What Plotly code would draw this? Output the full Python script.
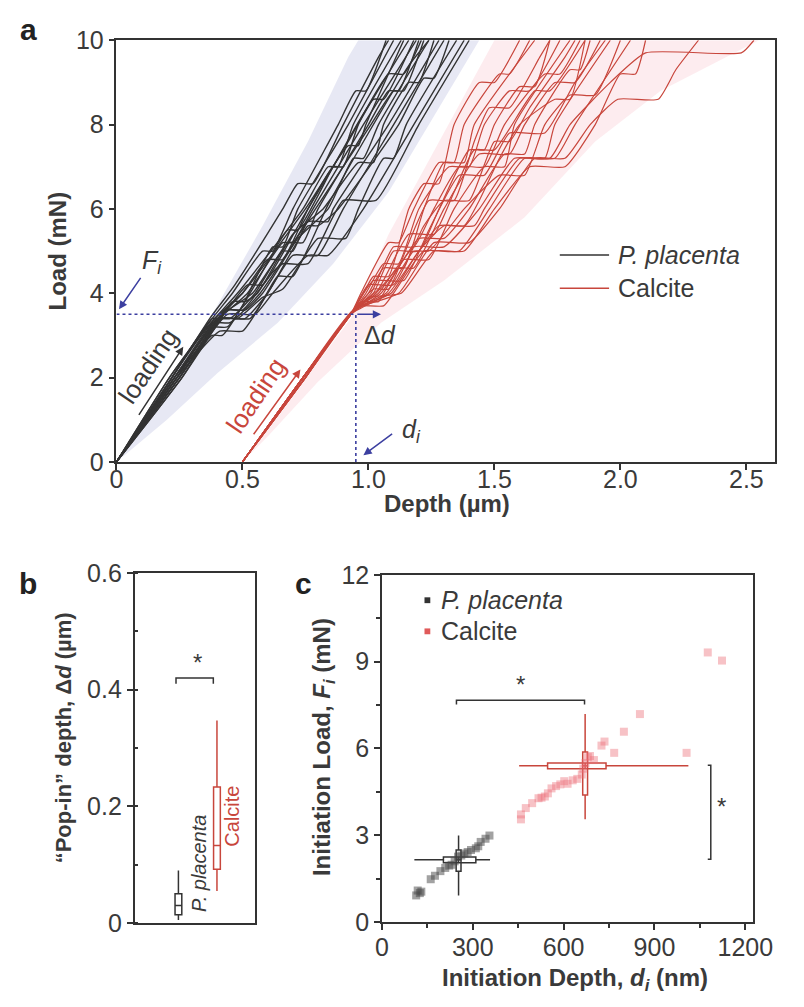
import plotly.graph_objects as go

W, H = 804, 1007

# ---------------- Panel a: load-depth curves (depth in um, load in mN) ----------------
pp_curves = [
    [(0, 0), (0.23, 2.0), (0.38, 3.0), (0.42, 3.0), (0.50, 3.7), (0.62, 5.1), (0.66, 5.1), (0.72, 6.0), (0.92, 8.0), (1.10, 10)],
    [(0, 0), (0.24, 2.0), (0.42, 3.5), (0.50, 4.0), (0.60, 4.8), (0.66, 4.8), (0.76, 6.0), (0.86, 7.0), (0.90, 7.0), (0.96, 8.0), (1.16, 10)],
    [(0, 0), (0.22, 2.0), (0.38, 3.4), (0.45, 3.4), (0.55, 4.0), (0.68, 5.2), (0.74, 5.2), (0.80, 6.0), (1.00, 8.0), (1.08, 8.8), (1.12, 8.8), (1.20, 10)],
    [(0, 0), (0.25, 2.0), (0.44, 3.6), (0.51, 3.6), (0.58, 4.0), (0.72, 5.3), (0.84, 6.0), (0.94, 7.2), (0.98, 7.2), (1.04, 8.0), (1.24, 10)],
    [(0, 0), (0.24, 2.0), (0.40, 3.4), (0.53, 3.4), (0.60, 4.0), (0.70, 4.9), (0.80, 4.9), (0.90, 6.0), (1.10, 8.0), (1.30, 10)],
    [(0, 0), (0.21, 2.0), (0.38, 3.4), (0.46, 4.0), (0.58, 5.0), (0.62, 5.0), (0.70, 6.0), (0.88, 8.0), (0.95, 8.8), (0.99, 8.8), (1.07, 10)],
    [(0, 0), (0.25, 2.0), (0.43, 3.6), (0.50, 3.6), (0.62, 4.5), (0.66, 4.7), (0.76, 4.7), (0.90, 6.2), (1.03, 6.2), (1.20, 8.0), (1.40, 10)],
    [(0, 0), (0.24, 2.0), (0.40, 3.4), (0.48, 3.4), (0.58, 3.9), (0.66, 4.1), (0.80, 5.3), (0.91, 5.3), (0.96, 6.0), (1.06, 7.2), (1.10, 7.2), (1.15, 8.0), (1.35, 10)],
    [(0, 0), (0.23, 2.0), (0.39, 3.3), (0.52, 4.0), (0.66, 5.2), (0.70, 5.2), (0.78, 6.0), (0.98, 8.0), (1.19, 10)],
    [(0, 0), (0.26, 2.0), (0.46, 3.8), (0.51, 3.8), (0.56, 4.0), (0.70, 5.4), (0.82, 6.0), (0.96, 7.1), (1.02, 7.1), (1.06, 8.0), (1.16, 9.0), (1.20, 9.0), (1.26, 10)],
    [(0, 0), (0.21, 2.0), (0.36, 3.2), (0.48, 4.0), (0.74, 6.0), (0.84, 7.0), (0.88, 7.0), (0.94, 8.0), (1.13, 10)],
    [(0, 0), (0.25, 2.0), (0.44, 3.5), (0.55, 3.5), (0.62, 4.0), (0.76, 4.9), (0.84, 4.9), (0.98, 6.0), (1.18, 8.0), (1.38, 10)],
    [(0, 0), (0.23, 2.0), (0.42, 3.5), (0.54, 4.0), (0.66, 5.0), (0.70, 5.0), (0.76, 5.7), (0.84, 5.7), (0.86, 6.0), (1.08, 8.0), (1.28, 10)],
    [(0, 0), (0.22, 2.0), (0.38, 3.3), (0.45, 3.3), (0.57, 4.0), (0.79, 6.0), (1.01, 8.0), (1.10, 8.8), (1.14, 8.8), (1.22, 10)],
    [(0, 0), (0.23, 2.0), (0.39, 3.4), (0.50, 4.0), (0.75, 6.0), (0.92, 7.5), (0.96, 7.5), (0.99, 8.0), (1.14, 10)],
    [(0, 0), (0.25, 2.0), (0.42, 3.4), (0.51, 3.4), (0.60, 4.0), (0.76, 5.6), (0.80, 5.6), (0.88, 6.0), (1.12, 8.0), (1.22, 9.1), (1.26, 9.1), (1.32, 10)],
    [(0, 0), (0.22, 2.0), (0.36, 3.2), (0.44, 3.2), (0.54, 4.1), (0.68, 5.5), (0.72, 5.5), (0.86, 7.0), (1.02, 8.6), (1.06, 8.6), (1.18, 10)],
    [(0, 0), (0.26, 2.0), (0.45, 3.7), (0.52, 4.2), (0.58, 4.2), (0.74, 5.8), (0.92, 7.6), (1.08, 9.2), (1.14, 9.2), (1.21, 10)],
    [(0, 0), (0.24, 2.0), (0.41, 3.1), (0.50, 3.1), (0.56, 3.6), (0.64, 4.4), (0.70, 4.4), (0.84, 6.1), (1.00, 7.8), (1.16, 9.4), (1.24, 10)],
    [(0, 0), (0.22, 2.0), (0.37, 3.4), (0.47, 4.2), (0.66, 6.0), (0.72, 6.6), (0.78, 6.6), (0.90, 8.0), (1.04, 9.6), (1.08, 10)],
]

calcite_curves = [
    [(0.5, 0), (0.74, 2.0), (0.93, 3.5), (0.98, 4.0), (1.02, 4.4), (1.08, 4.4), (1.16, 6.0), (1.22, 6.6), (1.28, 6.6), (1.34, 8.0), (1.44, 9.0), (1.50, 9.0), (1.60, 10)],
    [(0.5, 0), (0.74, 2.0), (0.93, 3.5), (1.00, 4.0), (1.06, 4.6), (1.14, 4.6), (1.22, 6.0), (1.30, 7.1), (1.38, 7.1), (1.42, 8.0), (1.66, 10)],
    [(0.5, 0), (0.75, 2.0), (0.93, 3.5), (1.02, 4.0), (1.10, 5.0), (1.20, 5.0), (1.28, 6.0), (1.40, 7.4), (1.46, 7.4), (1.50, 8.0), (1.60, 8.9), (1.66, 8.9), (1.72, 10)],
    [(0.5, 0), (0.74, 2.0), (0.94, 3.6), (1.04, 4.0), (1.14, 4.8), (1.24, 4.8), (1.34, 6.0), (1.46, 7.0), (1.54, 7.0), (1.58, 8.0), (1.80, 10)],
    [(0.5, 0), (0.74, 2.0), (0.93, 3.5), (0.97, 3.8), (1.04, 3.8), (1.06, 4.0), (1.20, 5.3), (1.30, 5.3), (1.40, 6.0), (1.54, 7.3), (1.62, 7.3), (1.66, 8.0), (1.80, 9.3), (1.84, 9.3), (1.88, 10)],
    [(0.5, 0), (0.75, 2.0), (0.93, 3.5), (1.08, 4.0), (1.20, 5.0), (1.28, 5.6), (1.42, 5.6), (1.46, 6.0), (1.60, 7.2), (1.70, 7.2), (1.74, 8.0), (1.96, 10)],
    [(0.5, 0), (0.74, 2.0), (0.93, 3.5), (0.96, 3.7), (1.06, 3.7), (1.10, 4.0), (1.22, 5.0), (1.36, 5.0), (1.48, 6.0), (1.62, 7.2), (1.74, 7.2), (1.82, 8.0), (2.04, 10)],
    [(0.5, 0), (0.74, 2.0), (0.94, 3.6), (1.12, 4.0), (1.26, 5.2), (1.40, 5.2), (1.52, 6.0), (1.66, 7.2), (1.78, 7.2), (1.88, 8.0), (1.99, 8.6), (2.15, 8.6), (2.22, 9.3), (2.31, 10)],
    [(0.5, 0), (0.75, 2.0), (0.93, 3.5), (1.05, 4.0), (1.18, 5.1), (1.30, 5.1), (1.44, 6.0), (1.58, 7.2), (1.72, 7.2), (1.80, 8.0), (1.96, 9.0), (2.10, 9.7), (2.48, 9.7), (2.53, 10)],
    [(0.5, 0), (0.74, 2.0), (0.93, 3.5), (0.99, 4.0), (1.06, 4.7), (1.12, 4.7), (1.20, 6.0), (1.32, 7.0), (1.40, 7.0), (1.46, 8.0), (1.56, 8.8), (1.64, 8.8), (1.76, 10)],
    [(0.5, 0), (0.74, 2.0), (0.93, 3.5), (1.03, 4.0), (1.12, 4.6), (1.18, 4.6), (1.30, 6.0), (1.44, 7.3), (1.56, 7.3), (1.62, 8.0), (1.74, 9.0), (1.82, 9.0), (1.92, 10)],
    [(0.5, 0), (0.75, 2.0), (0.94, 3.6), (1.07, 4.0), (1.18, 5.0), (1.24, 5.0), (1.38, 6.0), (1.52, 6.8), (1.62, 6.8), (1.70, 8.0), (1.80, 8.7), (1.90, 8.7), (2.00, 10)],
    [(0.5, 0), (0.74, 2.0), (0.93, 3.5), (1.01, 4.0), (1.10, 5.1), (1.18, 5.1), (1.26, 6.0), (1.36, 7.0), (1.46, 7.0), (1.54, 8.0), (1.70, 9.2), (1.76, 9.2), (1.84, 10)],
    [(0.5, 0), (0.74, 2.0), (0.93, 3.5), (1.00, 3.9), (1.13, 4.0), (1.26, 5.0), (1.38, 5.0), (1.50, 6.0), (1.64, 7.0), (1.78, 7.0), (1.90, 8.0), (2.00, 9.2), (2.06, 9.2), (2.10, 10)],
    [(0.5, 0), (0.74, 2.0), (0.93, 3.5), (0.97, 4.0), (1.08, 5.2), (1.12, 5.2), (1.18, 6.0), (1.28, 7.1), (1.34, 7.1), (1.38, 8.0), (1.52, 9.2), (1.56, 9.2), (1.64, 10)],
    [(0.5, 0), (0.75, 2.0), (0.94, 3.6), (1.09, 4.0), (1.20, 5.0), (1.30, 5.6), (1.38, 5.6), (1.44, 6.2), (1.52, 7.2), (1.60, 8.0), (1.74, 8.6), (1.80, 8.6), (1.86, 10)],
    [(0.5, 0), (0.74, 2.0), (0.93, 3.5), (1.00, 4.2), (1.10, 4.2), (1.22, 5.6), (1.30, 6.2), (1.40, 6.2), (1.50, 7.6), (1.56, 7.6), (1.64, 8.4), (1.78, 9.6), (1.82, 10)],
    [(0.5, 0), (0.74, 2.0), (0.94, 3.6), (1.04, 4.1), (1.16, 5.4), (1.26, 5.4), (1.34, 6.4), (1.42, 7.4), (1.50, 7.4), (1.66, 8.8), (1.72, 8.8), (1.86, 10)],
    [(0.5, 0), (0.75, 2.0), (0.93, 3.5), (1.02, 4.3), (1.14, 4.3), (1.24, 5.5), (1.36, 6.8), (1.46, 6.8), (1.56, 7.8), (1.70, 7.8), (1.82, 9.0), (1.94, 10)],
    [(0.5, 0), (0.74, 2.0), (0.93, 3.5), (1.02, 4.1), (1.08, 4.1), (1.16, 5.2), (1.24, 6.2), (1.34, 6.2), (1.42, 7.6), (1.48, 8.4), (1.56, 8.4), (1.68, 9.6), (1.72, 10)],
]

pp_band = [(0, 0), (0.22, 2.1), (0.38, 3.5), (0.58, 5.6), (0.76, 7.6), (0.92, 9.6), (0.96, 10),
           (1.44, 10), (1.28, 8.4), (1.08, 6.4), (0.86, 4.7), (0.64, 3.3), (0.40, 2.1), (0.20, 1.0), (0, 0)]
calcite_band = [(0.5, 0), (0.93, 3.4), (1.08, 5.4), (1.28, 7.6), (1.50, 10),
                (2.55, 10), (2.16, 8.8), (1.90, 7.6), (1.62, 5.8), (1.30, 4.3), (1.05, 3.3), (0.80, 1.9), (0.60, 0.6), (0.5, 0)]

fi_load = 3.5       # F_i marker
di_depth = 0.95     # d_i marker
dd_end = 1.05       # end of the Δd arrow

# ---------------- Panel b: pop-in depth box stats (um) ----------------
popin_pos = [0.363, 0.682]
popin_lo = [0.005, 0.055]
popin_q1 = [0.014, 0.092]
popin_med = [0.030, 0.133]
popin_q3 = [0.050, 0.233]
popin_hi = [0.090, 0.347]

# ---------------- Panel c: initiation depth (nm) vs load (mN) ----------------
pp_di = [113, 118, 125, 130, 161, 175, 193, 209, 222, 230, 240, 251, 262, 272, 283, 294, 310, 318, 326, 342, 355]
pp_fi = [0.92, 1.09, 1.00, 1.05, 1.48, 1.60, 1.76, 1.87, 1.95, 1.98, 2.10, 2.26, 2.30, 2.37, 2.42, 2.49, 2.55, 2.62, 2.77, 2.88, 2.99]
ca_di = [459, 459, 475, 496, 517, 527, 538, 548, 560, 575, 589, 602, 613, 630, 645, 660, 665, 672, 680, 687, 700, 725, 735, 767, 799, 852, 1006, 1076, 1123]
ca_fi = [3.55, 3.72, 3.94, 4.11, 4.28, 4.30, 4.34, 4.45, 4.62, 4.70, 4.76, 4.87, 4.78, 4.90, 4.95, 5.10, 5.30, 5.50, 5.70, 5.74, 5.60, 6.10, 6.24, 5.85, 6.58, 7.19, 5.85, 9.32, 9.04]

# box stats: (lower whisker, q1, median, q3, upper whisker)
pp_di_box = [107, 203, 253, 310, 357]
pp_fi_box = [0.92, 1.76, 2.15, 2.49, 2.99]
ca_di_box = [453, 547, 671, 740, 1012]
ca_fi_box = [3.55, 4.39, 5.40, 5.88, 7.19]

sig_depth_bracket = [246, 669, 7.67]   # x0, x1, y
sig_load_bracket = [1086, 2.17, 5.42]  # x, y0, y1

BLACK = "#333333"
RED = "#c8463c"
BLUE = "#3c3fa0"
TXT = "#3a3a3a"
FONT = "Liberation Sans, Arial, sans-serif"

fig = go.Figure()

# bands
fig.add_trace(go.Scatter(x=[p[0] for p in pp_band], y=[p[1] for p in pp_band], fill="toself",
                         fillcolor="rgba(160,165,212,0.25)", line=dict(width=0), mode="lines",
                         hoverinfo="skip", showlegend=False, xaxis="x", yaxis="y"))
fig.add_trace(go.Scatter(x=[p[0] for p in calcite_band], y=[p[1] for p in calcite_band], fill="toself",
                         fillcolor="rgba(246,170,180,0.22)", line=dict(width=0), mode="lines",
                         hoverinfo="skip", showlegend=False, xaxis="x", yaxis="y"))

for c in pp_curves:
    fig.add_trace(go.Scatter(x=[p[0] for p in c], y=[p[1] for p in c], mode="lines",
                             line=dict(color=BLACK, width=1.4, shape="spline", smoothing=0.5),
                             hoverinfo="skip", showlegend=False, xaxis="x", yaxis="y"))
for c in calcite_curves:
    fig.add_trace(go.Scatter(x=[p[0] for p in c], y=[p[1] for p in c], mode="lines",
                             line=dict(color=RED, width=1.2, shape="spline", smoothing=0.5),
                             hoverinfo="skip", showlegend=False, xaxis="x", yaxis="y"))

# dashed markers
fig.add_trace(go.Scatter(x=[0, di_depth], y=[fi_load, fi_load], mode="lines",
                         line=dict(color=BLUE, width=1.6, dash="dot"), hoverinfo="skip",
                         showlegend=False, xaxis="x", yaxis="y"))
fig.add_trace(go.Scatter(x=[di_depth, di_depth], y=[0, fi_load], mode="lines",
                         line=dict(color=BLUE, width=1.6, dash="dot"), hoverinfo="skip",
                         showlegend=False, xaxis="x", yaxis="y"))

# ---- panel b boxes
fig.add_trace(go.Box(x=[popin_pos[0]], lowerfence=[popin_lo[0]], q1=[popin_q1[0]], median=[popin_med[0]],
                     q3=[popin_q3[0]], upperfence=[popin_hi[0]], width=0.056, whiskerwidth=0,
                     line=dict(color=BLACK, width=1.5), fillcolor="white", boxpoints=False,
                     hoverinfo="skip", showlegend=False, xaxis="x2", yaxis="y2"))
fig.add_trace(go.Box(x=[popin_pos[1]], lowerfence=[popin_lo[1]], q1=[popin_q1[1]], median=[popin_med[1]],
                     q3=[popin_q3[1]], upperfence=[popin_hi[1]], width=0.056, whiskerwidth=0,
                     line=dict(color=RED, width=1.5), fillcolor="white", boxpoints=False,
                     hoverinfo="skip", showlegend=False, xaxis="x2", yaxis="y2"))

# ---- panel c scatter
fig.add_trace(go.Scatter(x=pp_di, y=pp_fi, mode="markers",
                         marker=dict(symbol="square", size=8, color="rgba(70,70,70,0.5)", line=dict(width=0)),
                         hoverinfo="skip", showlegend=False, xaxis="x3", yaxis="y3"))
fig.add_trace(go.Scatter(x=ca_di, y=ca_fi, mode="markers",
                         marker=dict(symbol="square", size=8, color="rgba(235,110,120,0.42)", line=dict(width=0)),
                         hoverinfo="skip", showlegend=False, xaxis="x3", yaxis="y3"))

for dbox, fbox, col in [(pp_di_box, pp_fi_box, BLACK), (ca_di_box, ca_fi_box, RED)]:
    fig.add_trace(go.Box(x=[dbox[2]], lowerfence=[fbox[0]], q1=[fbox[1]], median=[fbox[2]], q3=[fbox[3]],
                         upperfence=[fbox[4]], width=16, whiskerwidth=0, line=dict(color=col, width=1.5),
                         fillcolor="rgba(255,255,255,0)", boxpoints=False, hoverinfo="skip",
                         showlegend=False, xaxis="x3", yaxis="y3"))
    fig.add_trace(go.Box(y=[fbox[2]], lowerfence=[dbox[0]], q1=[dbox[1]], median=[dbox[2]], q3=[dbox[3]],
                         upperfence=[dbox[4]], width=0.2, whiskerwidth=0, orientation="h",
                         line=dict(color=col, width=1.5), fillcolor="rgba(255,255,255,0)",
                         boxpoints=False, hoverinfo="skip", showlegend=False, xaxis="x3", yaxis="y3"))


def px(x):
    return x / W


def py(y):
    return 1 - y / H


tickfont = dict(family=FONT, size=25, color=TXT)
axcommon = dict(showline=True, mirror=True, linecolor=BLACK, linewidth=1.5, showgrid=False,
                zeroline=False, ticks="outside", ticklen=6, tickwidth=1.5, tickcolor=BLACK,
                tickfont=tickfont)

a_x0, a_x1 = 113.3, 795
a_scale = 260.7
fig.update_layout(
    width=W, height=H, margin=dict(l=0, r=0, t=0, b=0), autosize=False,
    paper_bgcolor="white", plot_bgcolor="white", boxmode="overlay", showlegend=False,
    font=dict(family=FONT, color=TXT),
    xaxis=dict(domain=[px(a_x0), px(a_x1)], range=[0, (a_x1 - a_x0) / a_scale], anchor="y",
               tickvals=[0, 0.5, 1.0, 1.5, 2.0, 2.5], ticktext=["0", "0.5", "1.0", "1.5", "2.0", "2.5"],
               ticklabelstandoff=-12, **axcommon),
    yaxis=dict(domain=[py(460.7), py(27)], range=[0, 10], anchor="x",
               tickvals=[0, 2, 4, 6, 8, 10], **axcommon),
    xaxis2=dict(domain=[px(132), px(257)], range=[0, 1], anchor="y2", showticklabels=False,
                **{k: v for k, v in axcommon.items() if k not in ("ticks",)}, ticks=""),
    yaxis2=dict(domain=[py(935), py(575)], range=[0, 0.6], anchor="x2",
                tickvals=[0, 0.2, 0.4, 0.6], ticktext=["0", "0.2", "0.4", "0.6"],
                minor=dict(dtick=0.1, ticks="inside", ticklen=4, tickcolor=BLACK),
                **axcommon),
    xaxis3=dict(domain=[px(388), px(772)], range=[0, (772 - 388) / 0.3133], anchor="y3",
                tickvals=[0, 300, 600, 900, 1200], ticklabelstandoff=-4,
                minor=dict(dtick=150, ticks="outside", ticklen=4, tickcolor=BLACK),
                **axcommon),
    yaxis3=dict(domain=[py(934), py(577)], range=[0, 12], anchor="x3",
                tickvals=[0, 3, 6, 9, 12],
                minor=dict(dtick=1.5, ticks="outside", ticklen=4, tickcolor=BLACK),
                **axcommon),
)

ann = []


def text(x, y, s, size=23, color=TXT, angle=0, xanchor="center", yanchor="middle", xref="paper", yref="paper"):
    ann.append(dict(x=x, y=y, xref=xref, yref=yref, text=s, showarrow=False, textangle=angle,
                    xanchor=xanchor, yanchor=yanchor, font=dict(family=FONT, size=size, color=color)))


def arrow(x0, y0, x1, y1, color, xref="x", yref="y", width=1.5):
    ann.append(dict(x=x1, y=y1, ax=x0, ay=y0, xref=xref, yref=yref, axref=xref, ayref=yref, text="",
                    showarrow=True, arrowhead=2, arrowsize=1.1, arrowwidth=width, arrowcolor=color))


# panel labels
text(px(22), py(16), "<b>a</b>", size=30, color="#222")
text(px(22), py(586), "<b>b</b>", size=30, color="#222")
text(px(307), py(586), "<b>c</b>", size=30, color="#222")

# panel a titles
text(px(52), py(244), "<b>Load (mN)</b>", size=24, angle=-90)
text(px(455), py(504), "<b>Depth (µm)</b>", size=24)

# panel a legend (manual)
shapes = []
for yy, col in [(248, BLACK), (282, RED)]:
    shapes.append(dict(type="line", xref="paper", yref="paper", x0=px(572), x1=px(623), y0=py(yy), y1=py(yy),
                       line=dict(color=col, width=1.5)))
text(px(630), py(248), "<i>P. placenta</i>", size=25, xanchor="left")
text(px(630), py(282), "Calcite", size=25, xanchor="left")

# panel a annotations
arrow(dd_end - 0.1, fi_load, dd_end, fi_load, BLUE)
arrow(0.10, 4.4, 0.01, 3.62, BLUE)
arrow(1.10, 0.69, 0.98, 0.16, BLUE)
text(0.975, 3.0, "Δ<i>d</i>", size=25, xanchor="left", xref="x", yref="y")
text(0.14, 4.75, "<i>F<sub>i</sub></i>", size=25, xref="x", yref="y")
text(1.17, 0.74, "<i>d<sub>i</sub></i>", size=25, xref="x", yref="y")
arrow(0.085, 1.08, 0.265, 2.73, BLACK)
arrow(0.54, 0.62, 0.73, 2.19, RED)
text(0.125, 2.28, "loading", size=26, angle=-56, xref="x", yref="y")
text(0.555, 1.58, "loading", size=26, angle=-56, color=RED, xref="x", yref="y")

# panel b labels
text(px(58), py(745), "<b>“Pop-in” depth, Δ<i>d</i> (µm)</b>", size=22, angle=-90)
text(0.53, 0.102, "<i>P. placenta</i>", size=20, angle=-90, xref="x2", yref="y2")
text(0.81, 0.183, "Calcite", size=20, angle=-90, color=RED, xref="x2", yref="y2")
text(0.517, 0.447, "*", size=24, xref="x2", yref="y2")
shapes.append(dict(type="path", xref="x2", yref="y2",
                   path=f"M {popin_pos[0]-0.02} 0.41 L {popin_pos[0]-0.02} 0.42 L {popin_pos[1]-0.03} 0.42 L {popin_pos[1]-0.03} 0.41",
                   line=dict(color=BLACK, width=1.5)))

# panel c labels
text(px(327), py(754), "<b>Initiation Load, <i>F<sub>i</sub></i> (mN)</b>", size=24, angle=-90)
text(px(588), py(993), "<b>Initiation Depth, <i>d<sub>i</sub></i> (nm)</b>", size=24)
# legend (manual)
shapes.append(dict(type="rect", xref="paper", yref="paper", x0=px(432), x1=px(438), y0=py(600), y1=py(606),
                   fillcolor="#333", line=dict(width=0)))
shapes.append(dict(type="rect", xref="paper", yref="paper", x0=px(432), x1=px(438), y0=py(632), y1=py(638),
                   fillcolor="#e05a5a", line=dict(width=0)))
text(px(447), py(603), "<i>P. placenta</i>", size=25, xanchor="left")
text(px(447), py(635), "Calcite", size=25, xanchor="left")
# significance brackets
x0, x1, yb = sig_depth_bracket
shapes.append(dict(type="path", xref="x3", yref="y3",
                   path=f"M {x0} {yb-0.15} L {x0} {yb} L {x1} {yb} L {x1} {yb-0.15}",
                   line=dict(color=BLACK, width=1.5)))
text((x0 + x1) / 2, yb + 0.55, "*", size=24, xref="x3", yref="y3")
xb, y0, y1 = sig_load_bracket
shapes.append(dict(type="path", xref="x3", yref="y3",
                   path=f"M {xb-10} {y0} L {xb} {y0} L {xb} {y1} L {xb-10} {y1}",
                   line=dict(color=BLACK, width=1.5)))
text(xb + 35, (y0 + y1) / 2 + 0.2, "*", size=24, xref="x3", yref="y3")

fig.update_layout(annotations=ann, shapes=shapes)
fig.write_html("out.html")
